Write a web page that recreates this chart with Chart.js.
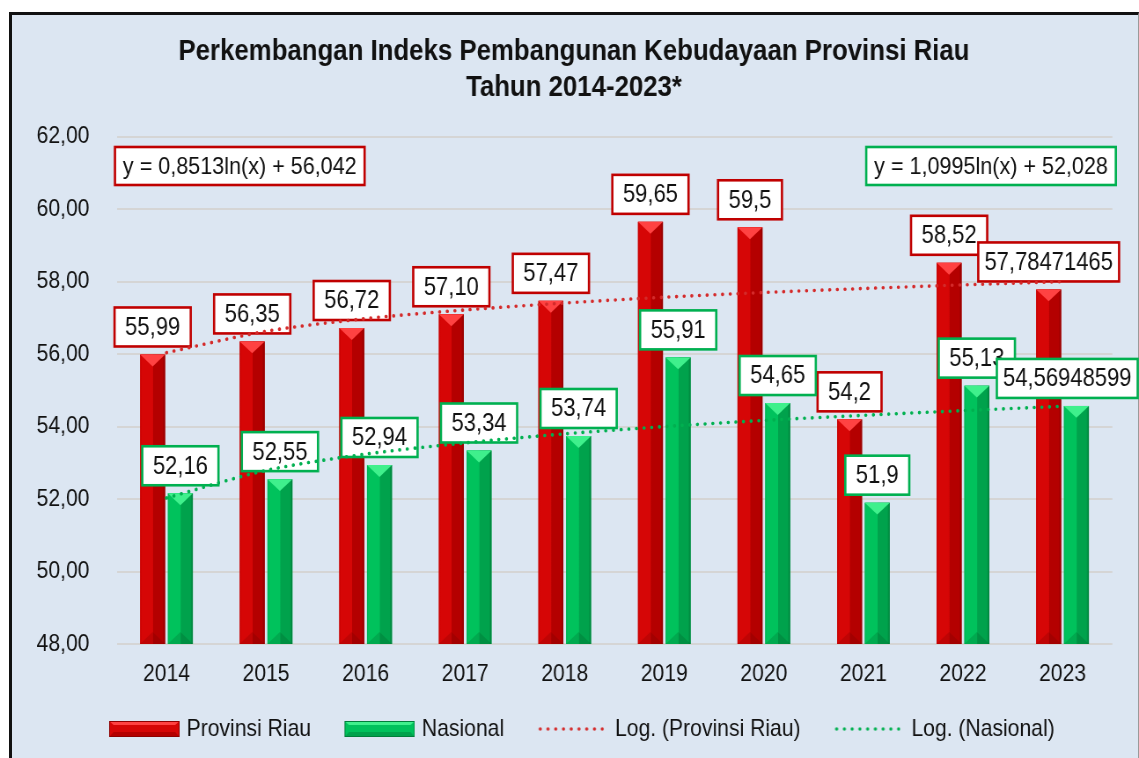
<!DOCTYPE html>
<html><head><meta charset="utf-8">
<script src="https://cdn.jsdelivr.net/npm/chart.js@4"></script>
<style>
html,body{margin:0;padding:0;background:#fff;overflow:hidden;width:1139px;height:758px}
#frame{position:absolute;left:9px;top:12px;width:1126px;height:760px;background:#dce6f2;border-left:3px solid #111;border-top:3px solid #111;border-right:1px solid #9a9a9a;}
#wrap{position:absolute;left:0;top:0;width:1294px;height:758px;transform:scaleX(0.8802);transform-origin:0 0;}
</style></head>
<body><div id="frame"></div><div id="wrap"><canvas id="c" width="1294" height="758"></canvas></div>
<script>
// ---- data ----
const years = ['2014','2015','2016','2017','2018','2019','2020','2021','2022','2023'];
const riau = [55.99, 56.35, 56.72, 57.10, 57.47, 59.65, 59.5, 54.2, 58.52, 57.78471465];
const nasional = [52.16, 52.55, 52.94, 53.34, 53.74, 55.91, 54.65, 51.9, 55.13, 54.56948599];
const riauLabels = ['55,99','56,35','56,72','57,10','57,47','59,65','59,5','54,2','58,52','57,78471465'];
const nasionalLabels = ['52,16','52,55','52,94','53,34','53,74','55,91','54,65','51,9','55,13','54,56948599'];
const riauTrend = [56.04, 56.63, 56.98, 57.22, 57.41, 57.57, 57.70, 57.81, 57.91, 58.00];
const nasionalTrend = [52.03, 52.79, 53.24, 53.55, 53.80, 54.00, 54.17, 54.31, 54.44, 54.56];
const yTicks = [48, 50, 52, 54, 56, 58, 60, 62];
const seriesNames = ['Provinsi Riau', 'Nasional', 'Log. (Provinsi Riau)', 'Log. (Nasional)'];
const equations = ['y = 0,8513ln(x) + 56,042', 'y = 1,0995ln(x) + 52,028'];
const titleLines = ['Perkembangan Indeks Pembangunan Kebudayaan Provinsi Riau', 'Tahun 2014-2023*'];

// ---- style ----
const FONT = '"Liberation Sans", Arial, sans-serif';
const RED = {light:'#d60606', dark:'#b40000', edgeL:'#c40000', edgeR:'#8e0000', top:'#ff4242', bottom:'rgba(90,0,0,0.18)', line:'#c00000'};
const GREEN = {light:'#00c25c', dark:'#00a24c', edgeL:'#00b050', edgeR:'#007e3a', top:'#3ff08c', bottom:'rgba(0,60,20,0.18)', line:'#00b050'};
const TREND_RED = '#d42a2a', TREND_GREEN = '#00b050';

// legend icon: canvas 102 wide, visible part occupies x 22..102
const ICON_W = 102, ICON_X = 22;
function makeSwatch(p) {
  const c = document.createElement('canvas'); c.width = ICON_W; c.height = 16;
  const g = c.getContext('2d'); g.translate(ICON_X, 0);
  g.fillStyle = p.light; g.fillRect(0,0,80,16);
  g.fillStyle = p.top; g.beginPath(); g.moveTo(0,0); g.lineTo(80,0); g.lineTo(75,4); g.lineTo(5,4); g.closePath(); g.fill();
  g.fillStyle = p.dark; g.beginPath(); g.moveTo(0,16); g.lineTo(80,16); g.lineTo(75,11); g.lineTo(5,11); g.closePath(); g.fill();
  g.strokeStyle = p.edgeR; g.lineWidth = 1; g.strokeRect(0.5,0.5,79,15);
  return c;
}
function makeDots(col) {
  const c = document.createElement('canvas'); c.width = ICON_W; c.height = 16;
  const g = c.getContext('2d'); g.translate(ICON_X, 0); g.fillStyle = col;
  for (let x = 3; x <= 74; x += 8.8) { g.beginPath(); g.arc(x, 8, 1.8, 0, Math.PI*2); g.fill(); }
  return c;
}
const legendIcons = [makeSwatch(RED), makeSwatch(GREEN), makeDots(TREND_RED), makeDots(TREND_GREEN)];

function drawBar3D(ctx, el, p, area) {
  const {x, y, base, width} = el.getProps(['x','y','base','width'], true);
  const l = x - width/2, r = x + width/2;
  const t = Math.max(Math.min(y, base), area.top), b = Math.min(Math.max(y, base), area.bottom);
  const bev = width * 0.42;
  const g = ctx.createLinearGradient(l, 0, r, 0);
  g.addColorStop(0, p.edgeL); g.addColorStop(0.07, p.light); g.addColorStop(0.5, p.light);
  g.addColorStop(0.53, p.dark); g.addColorStop(0.9, p.dark); g.addColorStop(1, p.edgeR);
  ctx.fillStyle = g; ctx.fillRect(l, t, width, b - t);
  ctx.fillStyle = p.top;
  ctx.beginPath(); ctx.moveTo(l, t); ctx.lineTo(r, t); ctx.lineTo(x, t + bev); ctx.closePath(); ctx.fill();
  ctx.fillStyle = p.bottom;
  ctx.beginPath(); ctx.moveTo(l, b); ctx.lineTo(r, b); ctx.lineTo(x, b - bev); ctx.closePath(); ctx.fill();
}

function drawLabels(chart) {
  const ctx = chart.ctx;
  const sets = [[0, riauLabels, RED.line], [1, nasionalLabels, GREEN.line]];
  ctx.save();
  ctx.font = '25px ' + FONT;
  ctx.textAlign = 'center'; ctx.textBaseline = 'middle';
  sets.forEach(([di, labels, col]) => {
    chart.getDatasetMeta(di).data.forEach((el, i) => {
      const {x, y} = el.getProps(['x','y'], true);
      const tw = ctx.measureText(labels[i]).width;
      const w = Math.min(tw + 24, 160), h = 39;
      let left = x - w/2;
      if (left + w > chart.width - 1.5) left = chart.width - 1.5 - w;
      const top = y - 8 - h;
      ctx.fillStyle = '#fff'; ctx.fillRect(left, top, w, h);
      ctx.lineWidth = 2.6; ctx.strokeStyle = col; ctx.strokeRect(left, top, w, h);
      ctx.fillStyle = '#111'; ctx.fillText(labels[i], left + w/2, top + h/2 + 1);
    });
  });
  ctx.restore();
}

function drawEquations(chart) {
  const ctx = chart.ctx, a = chart.chartArea;
  ctx.save();
  ctx.font = '24.5px ' + FONT;
  ctx.textAlign = 'center'; ctx.textBaseline = 'middle';
  const boxes = [[equations[0], RED.line, 'L'], [equations[1], GREEN.line, 'R']];
  boxes.forEach(([txt, col, side]) => {
    const w = ctx.measureText(txt).width + 18, h = 38, top = 147;
    const left = side === 'L' ? a.left - 2 : a.right + 4 - w;
    ctx.fillStyle = '#fff'; ctx.fillRect(left, top, w, h);
    ctx.lineWidth = 2.6; ctx.strokeStyle = col; ctx.strokeRect(left, top, w, h);
    ctx.fillStyle = '#111'; ctx.fillText(txt, left + w/2, top + h/2 + 1);
  });
  ctx.restore();
}

const deco = {
  id: 'deco',
  afterDatasetDraw(chart, args) {
    if (args.index === 0 || args.index === 1) {
      const ctx = chart.ctx; ctx.save();
      args.meta.data.forEach(el => drawBar3D(ctx, el, args.index === 0 ? RED : GREEN, chart.chartArea));
      ctx.restore();
    }
    if (args.index === 0) drawLabels(chart);
  },
  afterDraw(chart) { drawEquations(chart); }
};

new Chart(document.getElementById('c'), {
  data: {
    labels: years,
    datasets: [
      {type:'bar', label: seriesNames[0], data: riau, backgroundColor: RED.light, order: 1,
       categoryPercentage: 0.557, barPercentage: 0.9},
      {type:'bar', label: seriesNames[1], data: nasional, backgroundColor: GREEN.light, order: 1,
       categoryPercentage: 0.557, barPercentage: 0.9},
      {type:'line', label: seriesNames[2], data: riauTrend, borderColor: TREND_RED, borderWidth: 3.6,
       borderDash: [0.1, 8.6], borderCapStyle: 'round', pointRadius: 0, fill: false, order: 0, tension: 0.3},
      {type:'line', label: seriesNames[3], data: nasionalTrend, borderColor: TREND_GREEN, borderWidth: 3.6,
       borderDash: [0.1, 8.6], borderCapStyle: 'round', pointRadius: 0, fill: false, order: 0, tension: 0.3}
    ]
  },
  options: {
    responsive: false, animation: false, devicePixelRatio: 1,
    layout: {padding: {left: 40.5, right: 30.3, top: 0, bottom: 7}},
    scales: {
      x: {
        grid: {display: false, drawTicks: false}, border: {display: false},
        ticks: {padding: 15.6, color: '#111', font: {family: FONT, size: 24}},
        afterFit(s) { s.height = 53; }
      },
      y: {
        min: 48, max: 62,
        afterBuildTicks(s) { s.ticks = yTicks.map(v => ({value: v})); },
        grid: {color: '#d5d5d5', lineWidth: 2, drawTicks: false}, border: {display: false},
        ticks: {padding: 31, color: '#111', font: {family: FONT, size: 24},
                callback: v => v.toFixed(2).replace('.', ',')},
        afterFit(s) { s.width = 92.1; }
      }
    },
    plugins: {
      title: {display: true, text: titleLines, color: '#111',
              font: {family: FONT, size: 29.3, weight: 'bold', lineHeight: 36/29.3},
              padding: {top: 34, bottom: 30.7}},
      legend: {
        position: 'bottom',
        labels: {
          usePointStyle: true, pointStyleWidth: 94, padding: 20, color: '#111',
          font: {family: FONT, size: 24},
          generateLabels: (chart) => chart.data.datasets.map((ds, i) => ({
            text: ds.label, pointStyle: legendIcons[i], fillStyle: 'transparent',
            strokeStyle: 'transparent', lineWidth: 0, hidden: false, datasetIndex: i, fontColor: '#111'
          }))
        }
      },
      tooltip: {enabled: false}
    }
  },
  plugins: [deco]
});
</script>
</body></html>
